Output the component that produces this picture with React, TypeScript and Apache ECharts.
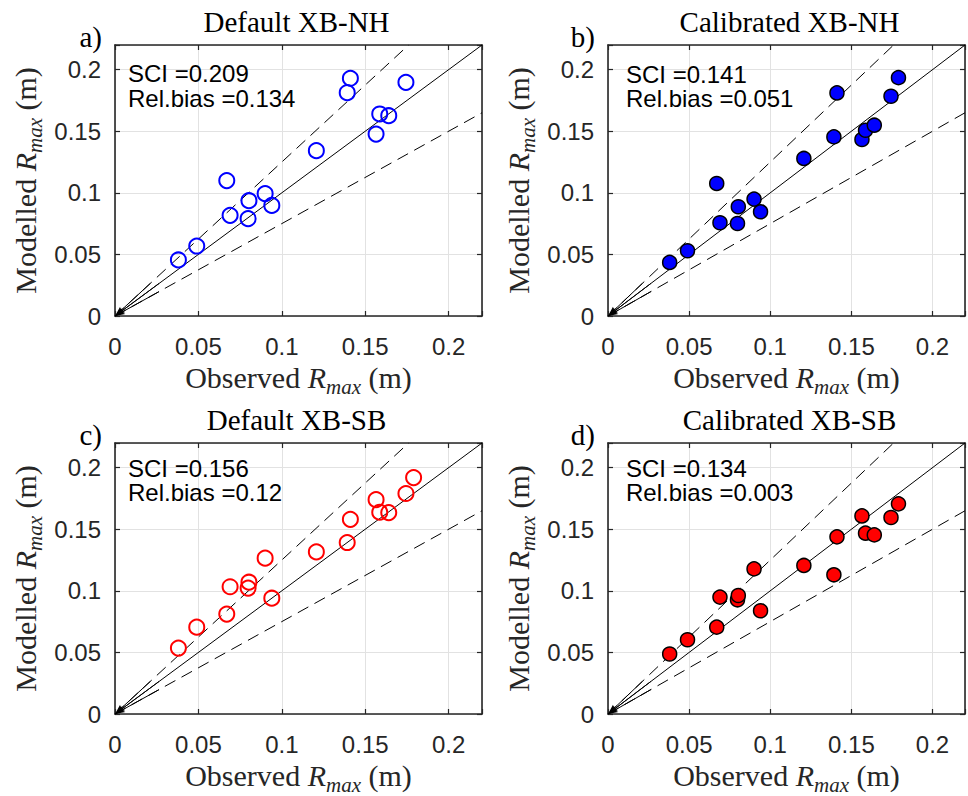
import React, { useEffect, useRef } from 'react';
import * as echarts from 'echarts';

const AXIS_MAX = 0.22;
const TICK_STEP = 0.05;
const REF_SLOPES = [1, 1.25, 0.75];

const observed = [0.038, 0.049, 0.067, 0.069, 0.0798, 0.0803, 0.09, 0.094, 0.1207, 0.1392, 0.1411, 0.1565, 0.1587, 0.1641, 0.1744, 0.179];
const modelledDefaultNH = [0.0455, 0.0568, 0.1099, 0.0817, 0.079, 0.0936, 0.0993, 0.0898, 0.1342, 0.1813, 0.193, 0.1477, 0.164, 0.1626, 0.1897, null];
const modelledCalibratedNH = [0.0435, 0.053, 0.1076, 0.0757, 0.0751, 0.0887, 0.0949, 0.0846, 0.1279, 0.1454, 0.1811, 0.1433, 0.1508, 0.1549, 0.1784, 0.1935];
const modelledDefaultSB = [0.0535, 0.0705, 0.0811, 0.1033, 0.1022, 0.107, 0.1265, 0.094, 0.1316, 0.1392, 0.158, 0.174, 0.1638, 0.1635, 0.179, 0.1919];
const modelledCalibratedSB = [0.0487, 0.0603, 0.0705, 0.0949, 0.0927, 0.0962, 0.1178, 0.0838, 0.1206, 0.113, 0.1438, 0.1608, 0.1468, 0.1454, 0.1595, 0.1706];

const panelTitles = ['Default XB-NH', 'Calibrated XB-NH', 'Default XB-SB', 'Calibrated XB-SB'];
const panelLetters = ['a)', 'b)', 'c)', 'd)'];
const sciValues = ['0.209', '0.141', '0.156', '0.134'];
const relBiasValues = ['0.134', '0.051', '0.12', '0.003'];
const modelledSets = [modelledDefaultNH, modelledCalibratedNH, modelledDefaultSB, modelledCalibratedSB];
const panelColors = ['#0000ff', '#0000ff', '#ff0000', '#ff0000'];
const panelFilled = [false, true, false, true];

const GRID_W = 367;
const GRID_H = 271;
const layout = [
  { left: 115, top: 45, sciX: 128, sciY: 73.5 },
  { left: 608, top: 45, sciX: 626, sciY: 74 },
  { left: 115, top: 443, sciX: 128, sciY: 468 },
  { left: 608, top: 443, sciX: 626, sciY: 468 },
];

const SERIF = '"Liberation Serif", "Times New Roman", serif';
const SANS = '"Liberation Sans", Arial, Helvetica, sans-serif';
const AX = '#262626';

const nameRich = {
  r: { fontFamily: SERIF, fontSize: 30, color: AX, verticalAlign: 'bottom', padding: [0, 0, 5, 0] },
  i: { fontFamily: SERIF, fontSize: 30, fontStyle: 'italic', color: AX, verticalAlign: 'bottom', padding: [0, 0, 5, 0] },
  s: { fontFamily: SERIF, fontSize: 21, fontStyle: 'italic', color: AX, verticalAlign: 'bottom', padding: [0, 0, 0, 0] },
};

const fmt = (v: number) => (Math.abs(v - AXIS_MAX) < 1e-9 ? '' : String(Math.round(v * 100) / 100));

function buildOption() {
  const grid: any[] = [];
  const xAxis: any[] = [];
  const yAxis: any[] = [];
  const series: any[] = [];
  const graphic: any[] = [];

  layout.forEach((L, i) => {
    grid.push({ left: L.left, top: L.top, width: GRID_W, height: GRID_H });
    const common = {
      gridIndex: i,
      type: 'value',
      min: 0,
      max: AXIS_MAX,
      interval: TICK_STEP,
      axisLine: { show: true, onZero: false, lineStyle: { color: AX, width: 1.6 } },
      axisTick: { show: true, inside: true, length: 5, lineStyle: { color: AX, width: 1.2 } },
    };
    xAxis.push({
      ...common,
      position: 'bottom',
      axisLabel: { formatter: fmt, fontSize: 24, fontFamily: SANS, color: AX, margin: 18 },
      splitLine: { show: true, lineStyle: { color: '#e2e2e2', width: 1 } },
      name: '{r|Observed }{i|R}{s|max}{r| (m)}',
      nameLocation: 'middle',
      nameGap: 46,
      nameTextStyle: { rich: nameRich },
    });
    xAxis.push({ ...common, position: 'top', axisLabel: { show: false }, splitLine: { show: false } });
    yAxis.push({
      ...common,
      position: 'left',
      axisLabel: { formatter: fmt, fontSize: 24, fontFamily: SANS, color: AX, margin: 14 },
      splitLine: { show: true, lineStyle: { color: '#e2e2e2', width: 1 } },
      name: '{r|Modelled }{i|R}{s|max}{r| (m)}',
      nameLocation: 'middle',
      nameRotate: 90,
      nameGap: 70,
      nameTextStyle: { rich: nameRich },
    });
    yAxis.push({ ...common, position: 'right', axisLabel: { show: false }, splitLine: { show: false } });

    REF_SLOPES.forEach((k) => {
      const end = k >= 1 ? [AXIS_MAX / k, AXIS_MAX] : [AXIS_MAX, AXIS_MAX * k];
      series.push({
        type: 'line',
        xAxisIndex: 2 * i,
        yAxisIndex: 2 * i,
        data: [[0, 0], end],
        showSymbol: false,
        symbol: 'none',
        silent: true,
        z: 2,
        lineStyle: { color: '#000', width: 1, type: k === 1 ? 'solid' : [12, 7] },
        markLine: {
          silent: true,
          symbol: ['arrow', 'none'],
          symbolSize: [5, 10],
          label: { show: false },
          lineStyle: { color: '#000', width: 1, type: 'solid' },
          data: [[{ coord: [0, 0] }, { coord: [end[0] * 0.12, end[1] * 0.12] }]],
        },
      });
    });

    const ys = modelledSets[i];
    const pts = observed.map((x, k) => [x, ys[k]]).filter((d) => d[1] !== null && d[1] !== undefined);
    series.push({
      type: 'scatter',
      xAxisIndex: 2 * i,
      yAxisIndex: 2 * i,
      data: pts,
      symbol: 'circle',
      symbolSize: panelFilled[i] ? 14 : 15,
      z: 5,
      silent: true,
      itemStyle: panelFilled[i]
        ? { color: panelColors[i], borderColor: '#000', borderWidth: 1.5, opacity: 1 }
        : { color: 'rgba(0,0,0,0)', borderColor: panelColors[i], borderWidth: 2, opacity: 1 },
    });

    const cx = L.left + GRID_W / 2;
    graphic.push({
      type: 'text',
      x: cx - 2,
      y: L.top - 23,
      style: {
        text: panelTitles[i],
        font: `29px ${SERIF}`,
        fill: '#000',
        textAlign: 'center',
        textVerticalAlign: 'middle',
        align: 'center',
        verticalAlign: 'middle',
      },
    });
    graphic.push({
      type: 'text',
      x: L.left - 13,
      y: L.top - 8,
      style: {
        text: panelLetters[i],
        font: `29px ${SERIF}`,
        fill: '#000',
        textAlign: 'right',
        textVerticalAlign: 'middle',
        align: 'right',
        verticalAlign: 'middle',
      },
    });
    graphic.push({
      type: 'text',
      x: L.sciX,
      y: L.sciY,
      style: {
        text: `SCI =${sciValues[i]}`,
        font: `24px ${SANS}`,
        fill: '#000',
        textAlign: 'left',
        textVerticalAlign: 'middle',
        align: 'left',
        verticalAlign: 'middle',
      },
      z: 10,
    });
    graphic.push({
      type: 'text',
      x: L.sciX,
      y: L.sciY + 24.5,
      style: {
        text: `Rel.bias =${relBiasValues[i]}`,
        font: `24px ${SANS}`,
        fill: '#000',
        textAlign: 'left',
        textVerticalAlign: 'middle',
        align: 'left',
        verticalAlign: 'middle',
      },
      z: 10,
    });
  });

  return {
    animation: false,
    backgroundColor: '#fff',
    grid,
    xAxis,
    yAxis,
    series,
    graphic,
  };
}

export default function App() {
  const ref = useRef<HTMLDivElement>(null);
  useEffect(() => {
    if (!ref.current) return;
    const chart = echarts.init(ref.current, undefined, { renderer: 'svg' });
    chart.setOption(buildOption() as any);
    return () => chart.dispose();
  }, []);
  return <div ref={ref} style={{ position: 'fixed', left: 0, top: 0, width: 968, height: 796 }} />;
}
